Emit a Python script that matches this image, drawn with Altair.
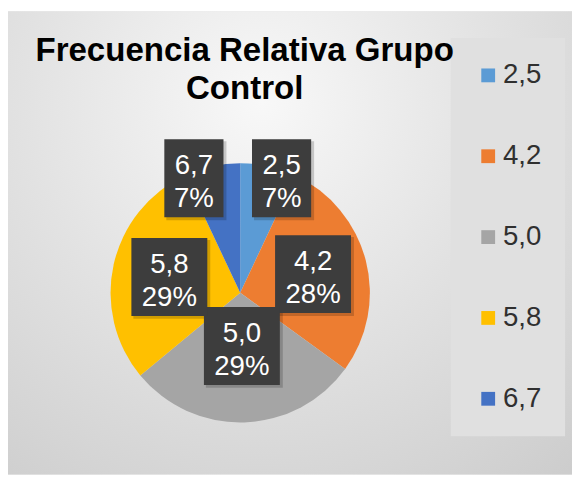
import altair as alt
import pandas as pd

# ---- data ----
categories = ["2,5", "4,2", "5,0", "5,8", "6,7"]
percentages = [7, 28, 29, 29, 7]
pct_labels = ["7%", "28%", "29%", "29%", "7%"]
title_lines = ["Frecuencia Relativa Grupo", "Control"]

# ---- style / layout (not data) ----
colors = ["#5B9BD5", "#ED7D31", "#A5A5A5", "#FFC000", "#4472C4"]
# Excel "best fit" label placement: radius fraction and sideways nudge
label_radius_frac = [0.905, 0.58, 0.41, 0.56, 0.905]
label_nudge_x = [16, 0, 0, 0, -21]

W, H = 572, 470
CX, CY, R = 235.5, 285.5, 131.5
FONT = "Liberation Sans"

df = pd.DataFrame({
    "cat": categories,
    "pct": percentages,
    "label": pct_labels,
    "idx": list(range(len(categories))),
    "rf": label_radius_frac,
    "nx": label_nudge_x,
})

xs = alt.Scale(domain=[0, W], nice=False, zero=False)
ys = alt.Scale(domain=[0, H], nice=False, zero=False, reverse=True)

bg_grad = alt.RadialGradient(
    gradient="radial",
    stops=[alt.GradientStop(color="#f8f8f8", offset=0),
           alt.GradientStop(color="#e2e2e2", offset=0.5),
           alt.GradientStop(color="#cdcdcd", offset=1)],
    x1=0.45, y1=0.25, r1=0, x2=0.45, y2=0.25, r2=0.85,
)

bg = alt.Chart(pd.DataFrame({"a": [0]})).mark_rect(fill=bg_grad).encode(
    x=alt.value(0), x2=alt.value(W), y=alt.value(0), y2=alt.value(H)
)

arcs = alt.Chart(df).mark_arc(outerRadius=R, x=CX, y=CY).encode(
    theta=alt.Theta("pct:Q", stack=True),
    color=alt.Color(
        "cat:N",
        scale=alt.Scale(domain=categories, range=colors),
        legend=alt.Legend(
            title=None, orient="none", legendX=449, legendY=27,
            direction="vertical", symbolType="square", symbolSize=196,
            symbolStrokeWidth=0, labelFontSize=28, labelFont=FONT,
            labelColor="#303030", rowPadding=54, padding=24,
            fillColor="#e0e0e0", labelOffset=1,
        ),
    ),
    order=alt.Order("idx:Q"),
)

base = (
    alt.Chart(df)
    .transform_window(cum="sum(pct)", sort=[alt.SortField("idx")], frame=[None, 0])
    .transform_joinaggregate(total="sum(pct)")
    .transform_calculate(ang="2*PI*(datum.cum - datum.pct/2)/datum.total")
    .transform_calculate(
        lx=f"{CX} + datum.rf*{R}*sin(datum.ang) + datum.nx",
        ly=f"{CY} - datum.rf*{R}*cos(datum.ang)",
    )
    .transform_calculate(
        hw="13 + 8.5*length(datum.label)",
        txt="datum.cat + '\\n' + datum.label",
    )
    .transform_calculate(
        bx1="datum.lx - datum.hw",
        bx2="datum.lx + datum.hw",
        by1="datum.ly - 39.5",
        by2="datum.ly + 39.5",
    )
)

shadow = base.mark_rect(
    color="black", opacity=0.18, xOffset=2, x2Offset=3, yOffset=2, y2Offset=3
).encode(
    x=alt.X("bx1:Q", scale=xs, axis=None),
    x2="bx2:Q",
    y=alt.Y("by1:Q", scale=ys, axis=None),
    y2="by2:Q",
)

boxes = base.mark_rect(color="#3d3d3d").encode(
    x=alt.X("bx1:Q", scale=xs, axis=None),
    x2="bx2:Q",
    y=alt.Y("by1:Q", scale=ys, axis=None),
    y2="by2:Q",
)

texts = base.mark_text(
    font=FONT, fontSize=28, color="white", lineBreak="\n", lineHeight=33,
    align="center", baseline="middle", dy=-12,
).encode(
    x=alt.X("lx:Q", scale=xs, axis=None),
    y=alt.Y("ly:Q", scale=ys, axis=None),
    text="txt:N",
)

chart = (
    alt.layer(bg, arcs, shadow, boxes, texts)
    .properties(
        width=W, height=H, padding=0,
        autosize=alt.AutoSizeParams(type="none"),
        title=alt.TitleParams(
            text=title_lines, fontSize=33.5, font=FONT, fontWeight="bold",
            color="black", anchor="middle", dx=-46, offset=-96,
            lineHeight=38, frame="group",
        ),
    )
    .configure_view(stroke=None)
)

chart.save("out.html", embed_options={"renderer": "svg", "actions": False})
